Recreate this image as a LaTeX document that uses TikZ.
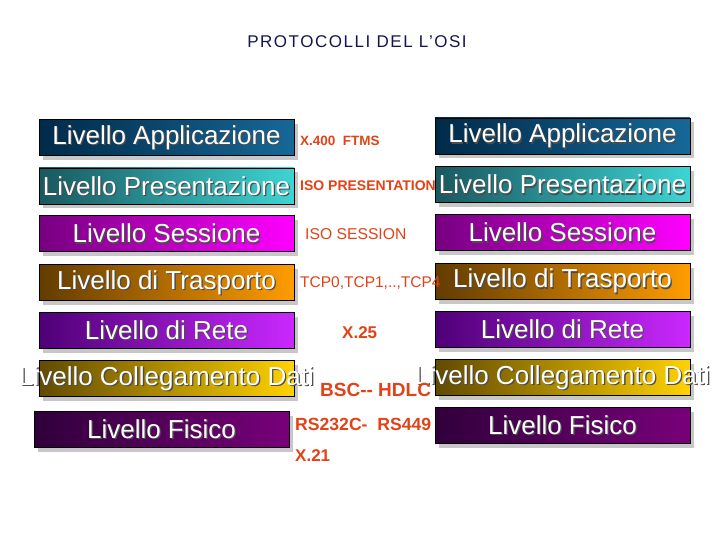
\documentclass[tikz,border=0pt]{standalone}
\usepackage{fontspec}
\setmainfont{Liberation Sans}
\newfontfamily\spaziata[LetterSpace=9.0]{Liberation Sans}
\usetikzlibrary{positioning}

\definecolor{rossoproto}{RGB}{226,66,22}
\definecolor{blutitolo}{RGB}{20,20,80}
\definecolor{appA}{RGB}{0,42,72}     \definecolor{appB}{RGB}{22,104,152}
\definecolor{preA}{RGB}{25,88,95}    \definecolor{preB}{RGB}{62,212,212}
\definecolor{sesA}{RGB}{118,0,128}   \definecolor{sesB}{RGB}{255,0,255}
\definecolor{traA}{RGB}{98,60,0}     \definecolor{traB}{RGB}{255,156,0}
\definecolor{retA}{RGB}{78,0,118}    \definecolor{retB}{RGB}{202,40,255}
\definecolor{colA}{RGB}{98,74,0}     \definecolor{colB}{RGB}{255,210,0}
\definecolor{fisA}{RGB}{48,0,58}     \definecolor{fisB}{RGB}{120,0,122}

\tikzset{
  livello/.style={draw=black, line width=0.8pt, minimum width=255pt,
                  minimum height=36pt, inner sep=0pt},
  ombra/.style={fill=black!22, minimum width=255pt, minimum height=36pt, inner sep=0pt},
  testo/.style={text=white, inner sep=0pt, font=\fontsize{26}{30}\selectfont},
  testombra/.style={testo, text=black!70},
  proto/.style={text=rossoproto, anchor=west, inner sep=0pt},
}

\begin{document}
\begin{tikzpicture}[x=1pt,y=-1pt]
    \useasboundingbox (0,0) rectangle (720,540);
    \node[text=blutitolo, font=\spaziata\fontsize{17}{20}\selectfont] (titolo) at (357,42)
        {PROTOCOLLI DEL L’OSI};
    % livelli: lato sinistro e lato destro
    \foreach \n/\testo/\ca/\cb/\xl/\yl/\yr in {
        1/Applicazione/appA/appB/39/137.5/136,
        2/Presentazione/preA/preB/39/186/184.5,
        3/Sessione/sesA/sesB/39/233.5/232.5,
        4/di Trasporto/traA/traB/39/282.5/281,
        5/di Rete/retA/retB/39/330/329,
        6/Collegamento Dati/colA/colB/39/378.5/377.5,
        7/Fisico/fisA/fisB/34/429/425} {
        \node[ombra] (osx\n) at (\xl+131.5,\yl+4.5) {};
        \node[livello, left color=\ca, right color=\cb] (sx\n) at (\xl+127.5,\yl) {};
        \node[testombra] (tosx\n) at ([shift={(1.3pt,-1.3pt)}]sx\n.center) {Livello \testo};
        \node[testo] (tsx\n) at (sx\n) {Livello \testo};
        \node[ombra] (odx\n) at (566.5,\yr+4.5) {};
        \node[livello, left color=\ca, right color=\cb] (dx\n) at (562.5,\yr) {};
        \node[testombra] (todx\n) at ([shift={(1.3pt,-1.3pt)}]dx\n.center) {Livello \testo};
        \node[testo] (tdx\n) at (dx\n) {Livello \testo};
    }
    % protocolli
    \node[proto, font=\bfseries\fontsize{13.5}{16}\selectfont] (p1) at (300,141) {X.400\ \ FTMS};
    \node[proto, font=\bfseries\fontsize{14}{16}\selectfont] (p2) at (300,186) {ISO PRESENTATION};
    \node[proto, font=\fontsize{15.7}{18}\selectfont] (p3) at (305,234) {ISO SESSION};
    \node[proto, font=\fontsize{15.5}{18}\selectfont] (p4) at (300,283) {TCP0,TCP1,..,TCP4};
    \node[proto, font=\bfseries\fontsize{17}{20}\selectfont] (p5) at (342,333) {X.25};
    \node[proto, font=\bfseries\fontsize{19}{22}\selectfont] (p6) at (320,390) {BSC-{}- HDLC};
    \node[proto, font=\bfseries\fontsize{17.6}{20}\selectfont] (p7) at (295,424) {RS232C-\ \ RS449};
    \node[proto, font=\bfseries\fontsize{17}{20}\selectfont] (p8) at (295,456) {X.21};
\end{tikzpicture}
\end{document}
